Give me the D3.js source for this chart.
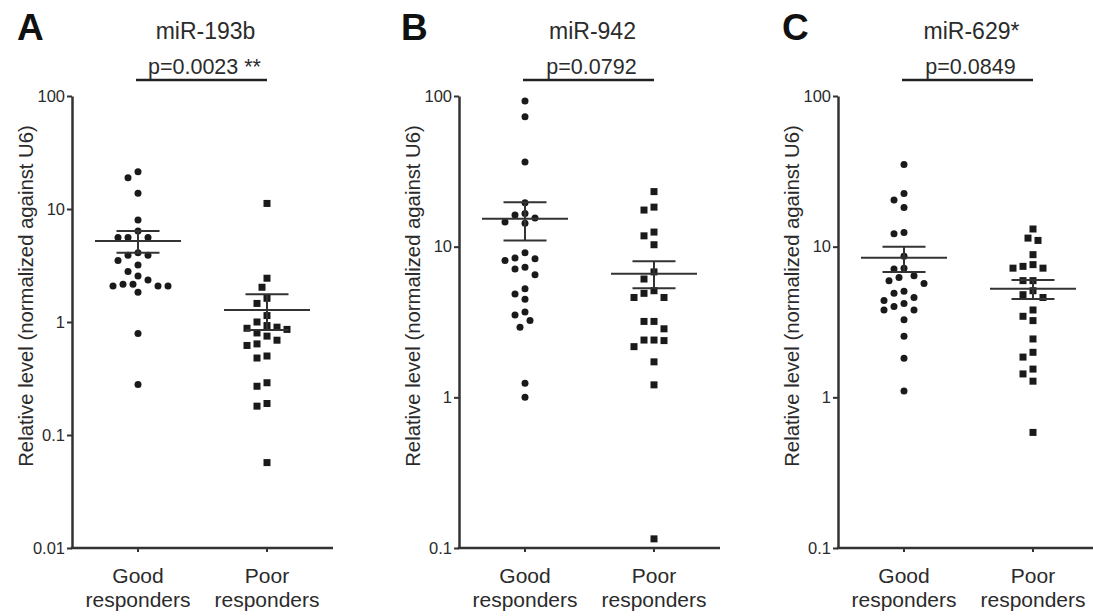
<!DOCTYPE html>
<html>
<head>
<meta charset="utf-8">
<script src="https://cdn.jsdelivr.net/npm/d3@7"></script>
<style>
  body { margin: 0; background: #fff; }
  text { font-family: Arial, "Liberation Sans", sans-serif; fill: #2b2b2b; }
</style>
</head>
<body>
<div id="chart"></div>
<script>
// Data
var categories = ["Good", "Poor"];
var categoryLabels = [["Good", "responders"], ["Poor", "responders"]];
var panelLetters = ["A", "B", "C"];
var titles = ["miR-193b", "miR-942", "miR-629*"];
var pLabels = ["p=0.0023 **", "p=0.0792", "p=0.0849"];
var yDomains = [[0.01, 100], [0.1, 100], [0.1, 100]];
var yTicks = [[0.01, 0.1, 1, 10, 100], [0.1, 1, 10, 100], [0.1, 1, 10, 100]];
var yTickLabels = [["0.01", "0.1", "1", "10", "100"], ["0.1", "1", "10", "100"], ["0.1", "1", "10", "100"]];
var yLabel = "Relative level (normalized against U6)";

var goodA = [21.4, 18.9, 13.8, 8.0, 6.4, 5.6, 5.6, 5.6, 3.9, 4.1, 3.9, 3.2, 3.5, 2.8, 2.55, 2.35,
  2.16, 2.08, 2.08, 2.08, 2.16, 1.83, 0.79, 0.28];
var poorA = [11.2, 2.44, 2.03, 1.62, 1.46, 1.14, 1.0, 0.90, 0.88, 0.80, 0.86, 0.93, 0.75, 0.69,
  0.62, 0.64, 0.50, 0.48, 0.27, 0.29, 0.19, 0.18, 0.057];
var goodB = [92.6, 72.8, 36.5, 19.6, 16.6, 16.2, 15.5, 14.3, 14.6, 9.1, 8.3, 8.1, 8.4, 7.3, 7.1,
  6.5, 5.25, 4.86, 4.48, 3.69, 3.52, 3.24, 2.92, 1.24, 1.0];
var poorB = [23.2, 18.3, 17.5, 12.5, 11.8, 10.3, 6.8, 6.1, 5.1, 4.6, 4.6, 4.9, 3.19, 3.19, 2.85,
  2.4, 2.38, 2.4, 2.17, 1.72, 1.21, 0.115];
var goodC = [35.1, 22.5, 20.4, 18.2, 12.4, 12.2, 8.65, 7.2, 7.1, 6.25, 6.4, 5.7, 5.95, 4.9, 4.4,
  4.6, 5.05, 3.8, 4.0, 3.8, 4.2, 3.27, 2.54, 1.82, 1.1];
var poorC = [13.1, 11.4, 11.0, 8.85, 7.6, 7.2, 7.2, 7.4, 5.95, 5.95, 5.1, 4.8, 4.6, 3.8, 3.45,
  3.23, 2.44, 1.99, 1.85, 1.54, 1.43, 1.28, 0.585];

// mean and SEM bounds [good, poor]
var meanA = [5.2, 1.28], upperA = [6.4, 1.76], lowerA = [4.1, 0.85];
var meanB = [15.3, 6.6], upperB = [19.7, 8.0], lowerB = [11.0, 5.3];
var meanC = [8.45, 5.25], upperC = [10.0, 6.0], lowerC = [6.8, 4.5];

var panels = [
  { good: goodA, poor: poorA, mean: meanA, upper: upperA, lower: lowerA },
  { good: goodB, poor: poorB, mean: meanB, upper: upperB, lower: lowerB },
  { good: goodC, poor: poorC, mean: meanC, upper: upperC, lower: lowerC }
];

// Layout
var svgWidth = 1093, svgHeight = 616;
var axisX = [72, 459, 838];
var axisLen = 261;
var goodOff = 66, poorOff = 195;
var letterX = [17, 401, 782];
var yTop = 96, yBottom = 548;

var svg = d3.select("#chart")
  .append("svg")
  .attr("width", svgWidth)
  .attr("height", svgHeight);

// simple beeswarm: place each point at the smallest offset that doesn't collide
function swarm(values, y, step, dist) {
  var pts = values.map(function(v) { return { v: v, y: y(v) }; })
    .sort(function(a, b) { return a.y - b.y; });
  var placed = [];
  pts.forEach(function(p) {
    var best = null;
    for (var k = 0; k < 40 && best === null; k++) {
      var cands = k === 0 ? [0] : [-k * step, k * step];
      for (var c = 0; c < cands.length; c++) {
        var off = cands[c];
        var ok = placed.every(function(q) { return Math.hypot(q.x - off, q.y - p.y) >= dist; });
        if (ok) { best = off; break; }
      }
    }
    p.x = best;
    placed.push(p);
  });
  return pts;
}

panels.forEach(function(pd, i) {
  var g = svg.append("g");

  var y = d3.scaleLog().domain(yDomains[i]).range([yBottom, yTop]);
  var x = d3.scalePoint().domain(categories).range([axisX[i] + goodOff, axisX[i] + poorOff]);

  // y axis
  var yAxis = g.append("g")
    .attr("transform", `translate(${axisX[i]},0)`)
    .call(d3.axisLeft(y).tickValues(yTicks[i])
      .tickFormat(function(d, j) { return yTickLabels[i][j]; })
      .tickSize(5).tickPadding(2).tickSizeOuter(0));
  yAxis.select(".domain").attr("stroke", "#333").attr("stroke-width", 2.5);
  yAxis.selectAll(".tick line").attr("stroke", "#333").attr("stroke-width", 2);
  yAxis.selectAll(".tick text").attr("font-size", 16.5).attr("fill", "#2b2b2b")
    .attr("font-family", "Arial, 'Liberation Sans', sans-serif");

  // x axis
  g.append("line")
    .attr("x1", axisX[i] - 1.25).attr("x2", axisX[i] + axisLen)
    .attr("y1", yBottom).attr("y2", yBottom)
    .attr("stroke", "#333").attr("stroke-width", 2.5);
  g.selectAll(".xtick")
    .data(categories).enter()
    .append("line")
    .attr("x1", d => x(d)).attr("x2", d => x(d))
    .attr("y1", yBottom).attr("y2", yBottom + 4)
    .attr("stroke", "#333").attr("stroke-width", 2);

  // category labels
  categories.forEach(function(c, j) {
    var t = g.append("text")
      .attr("x", x(c))
      .attr("text-anchor", "middle")
      .attr("font-size", 21);
    t.append("tspan").attr("x", x(c)).attr("y", 583).text(categoryLabels[j][0]);
    t.append("tspan").attr("x", x(c)).attr("y", 607).text(categoryLabels[j][1]);
  });

  // y label
  g.append("text")
    .attr("transform", `translate(${axisX[i] - 39},296) rotate(-90)`)
    .attr("text-anchor", "middle")
    .attr("font-size", 20.3)
    .text(yLabel);

  // panel letter
  g.append("text")
    .attr("x", letterX[i]).attr("y", 40)
    .attr("font-size", 37)
    .attr("font-weight", "bold")
    .style("fill", "#111")
    .text(panelLetters[i]);

  var mid = (x("Good") + x("Poor")) / 2;
  // title
  g.append("text")
    .attr("x", mid + 3).attr("y", 39)
    .attr("text-anchor", "middle")
    .attr("font-size", 23)
    .text(titles[i]);

  // p-value bracket
  g.append("line")
    .attr("x1", x("Good") - 2).attr("x2", x("Poor"))
    .attr("y1", 80).attr("y2", 80)
    .attr("stroke", "#222").attr("stroke-width", 2.5);
  g.append("text")
    .attr("x", mid + 2).attr("y", 74)
    .attr("text-anchor", "middle")
    .attr("font-size", 21.5)
    .text(pLabels[i]);

  // points
  var goodPts = swarm(pd.good, y, 5, 9.5);
  var poorPts = swarm(pd.poor, y, 5, 9.5);

  g.selectAll(".good")
    .data(goodPts).enter()
    .append("circle")
    .attr("cx", d => x("Good") + d.x)
    .attr("cy", d => d.y)
    .attr("r", 3.5)
    .attr("fill", "#1a1a1a");

  g.selectAll(".poor")
    .data(poorPts).enter()
    .append("rect")
    .attr("x", d => x("Poor") + d.x - 3.5)
    .attr("y", d => d.y - 3.5)
    .attr("width", 7).attr("height", 7)
    .attr("fill", "#1a1a1a");

  // mean and SEM
  categories.forEach(function(c, j) {
    var cx = x(c);
    g.append("line")
      .attr("x1", cx - 43).attr("x2", cx + 43)
      .attr("y1", y(pd.mean[j])).attr("y2", y(pd.mean[j]))
      .attr("stroke", "#333").attr("stroke-width", 2);
    g.append("line")
      .attr("x1", cx).attr("x2", cx)
      .attr("y1", y(pd.upper[j])).attr("y2", y(pd.lower[j]))
      .attr("stroke", "#333").attr("stroke-width", 2);
    [pd.upper[j], pd.lower[j]].forEach(function(v) {
      g.append("line")
        .attr("x1", cx - 21.5).attr("x2", cx + 21.5)
        .attr("y1", y(v)).attr("y2", y(v))
        .attr("stroke", "#333").attr("stroke-width", 2);
    });
  });
});
</script>
</body>
</html>
